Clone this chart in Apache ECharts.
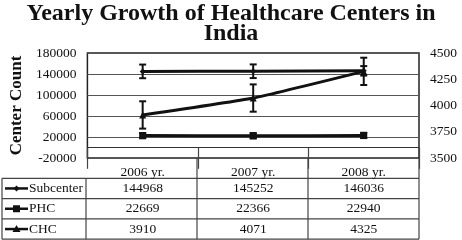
<!DOCTYPE html>
<html>
<head>
<meta charset="utf-8">
<script src="https://cdn.jsdelivr.net/npm/echarts@6/dist/echarts.min.js"></script>
<style>
  html, body { margin: 0; padding: 0; background: #fff; }
  #chart { width: 462px; height: 240px; }
</style>
</head>
<body>
<div id="chart"></div>
<script>
const years = ["2006 yr.", "2007 yr.", "2008 yr."];
const subcenter = [144968, 145252, 146036];
const phc = [22669, 22366, 22940];
const chc = [3910, 4071, 4325];
// error bar half-widths
const subcenterErr = [13000, 13000, 9000];
const phcErr = [5000, 5000, 5000];
const chcErr = [130, 130, 130];
const leftTicks = [-20000, 20000, 60000, 100000, 140000, 180000];

const font = "Liberation Serif";
const gridLeft = 86, gridRight = 43, gridTop = 53, gridHeight = 105;
const rowH = 20.3;

let chart = echarts.init(document.getElementById("chart"));

function errorBars(values, errs, yAxisIndex) {
  return {
    type: "custom",
    yAxisIndex: yAxisIndex,
    silent: true,
    z: 5,
    data: values.map((v, i) => [i, v - errs[i], v + errs[i]]),
    encode: { x: 0, y: [1, 2] },
    renderItem: function (params, api) {
      const lo = api.coord([api.value(0), api.value(1)]);
      const hi = api.coord([api.value(0), api.value(2)]);
      const w = 3.5;
      const style = { stroke: "#111", lineWidth: 2 };
      return {
        type: "group",
        children: [
          { type: "line", shape: { x1: lo[0], y1: lo[1], x2: hi[0], y2: hi[1] }, style },
          { type: "line", shape: { x1: lo[0] - w, y1: lo[1], x2: lo[0] + w, y2: lo[1] }, style },
          { type: "line", shape: { x1: hi[0] - w, y1: hi[1], x2: hi[0] + w, y2: hi[1] }, style },
        ],
      };
    },
  };
}

function lineSeries(name, values, symbol, size, yAxisIndex) {
  return {
    type: "line",
    name: name,
    yAxisIndex: yAxisIndex,
    data: values,
    symbol: symbol,
    symbolSize: size,
    smooth: 0.15,
    z: 6,
    itemStyle: { color: "#111" },
    lineStyle: { color: "#111", width: 3 },
  };
}

chart.setOption({
  animation: false,
  title: {
    text: "Yearly Growth of Healthcare Centers in\nIndia",
    left: "center",
    top: -1,
    textStyle: { fontFamily: font, fontSize: 24, fontWeight: "bold", color: "#111", lineHeight: 20 },
  },
  grid: {
    left: gridLeft,
    right: gridRight,
    top: gridTop,
    height: gridHeight,
    show: true,
    borderColor: "#222",
    borderWidth: 1.5,
  },
  xAxis: {
    type: "category",
    data: years,
    boundaryGap: true,
    axisLine: { show: false },
    axisTick: { show: true, length: rowH + 1, lineStyle: { color: "#444", width: 1.2 } },
    axisLabel: { fontFamily: font, fontSize: 13.5, color: "#111", margin: 7 },
  },
  yAxis: [
    {
      type: "value",
      min: -20000,
      max: 180000,
      interval: 20000,
      name: "Center Count",
      nameLocation: "middle",
      nameGap: 58,
      nameTextStyle: { fontFamily: font, fontSize: 17, fontWeight: "bold", color: "#111" },
      axisLine: { show: false },
      axisTick: { show: false },
      splitLine: { show: false },
      axisLabel: {
        fontFamily: font,
        fontSize: 13.5,
        color: "#111",
        margin: 11,
        formatter: (v) => (leftTicks.includes(v) ? String(v) : ""),
      },
    },
    {
      type: "value",
      position: "right",
      min: 3500,
      max: 4500,
      interval: 250,
      axisLine: { show: false },
      axisTick: { show: false },
      splitLine: { show: false },
      axisLabel: { fontFamily: font, fontSize: 13.5, color: "#111", margin: 11, formatter: (v) => String(v) },
    },
    {
      // only draws the gridlines at the left axis labels
      type: "value",
      min: 0,
      max: leftTicks.length - 1,
      interval: 1,
      axisLine: { show: false },
      axisTick: { show: false },
      axisLabel: { show: false },
      splitLine: { lineStyle: { color: "#555", width: 1 } },
    },
  ],
  series: [
    Object.assign(lineSeries("Subcenter", subcenter, "diamond", 6, 0), {
      markLine: {
        silent: true,
        symbol: "none",
        label: { show: false },
        lineStyle: { color: "#333", type: "solid", width: 1.2 },
        data: [{ yAxis: 0 }],
      },
    }),
    lineSeries("PHC", phc, "rect", 7, 0),
    lineSeries("CHC", chc, "triangle", 7, 1),
    errorBars(subcenter, subcenterErr, 0),
    errorBars(phc, phcErr, 0),
    errorBars(chc, chcErr, 1),
  ],
});

// data table under the plot
function buildTable() {
  const rows = [
    { name: "Subcenter", values: subcenter, mark: "diamond" },
    { name: "PHC", values: phc, mark: "rect" },
    { name: "CHC", values: chc, mark: "triangle" },
  ];
  const right = 462 - gridRight;
  const top = gridTop + gridHeight + rowH;
  const x0 = 2;
  const lineStyle = { stroke: "#444", lineWidth: 1.2 };
  const els = [];
  for (let r = 0; r <= rows.length; r++) {
    const y = top + r * rowH;
    els.push({ type: "line", shape: { x1: x0, y1: y, x2: right, y2: y }, style: lineStyle });
  }
  const bottom = top + rows.length * rowH;
  [x0, gridLeft].forEach((x) =>
    els.push({ type: "line", shape: { x1: x, y1: top, x2: x, y2: bottom }, style: lineStyle })
  );
  const colW = (right - gridLeft) / years.length;
  for (let c = 1; c <= years.length; c++) {
    const x = gridLeft + c * colW;
    els.push({ type: "line", shape: { x1: x, y1: gridTop + gridHeight, x2: x, y2: bottom }, style: lineStyle });
  }
  rows.forEach((row, r) => {
    const cy = top + r * rowH + rowH / 2;
    els.push({ type: "line", shape: { x1: 5, y1: cy, x2: 28, y2: cy }, style: { stroke: "#111", lineWidth: 2.5 } });
    let mk;
    if (row.mark === "diamond") {
      mk = { type: "polygon", shape: { points: [[16.5, cy - 3], [19.5, cy], [16.5, cy + 3], [13.5, cy]] } };
    } else if (row.mark === "rect") {
      mk = { type: "rect", shape: { x: 13, y: cy - 3.5, width: 7, height: 7 } };
    } else {
      mk = { type: "polygon", shape: { points: [[16.5, cy - 4], [20.5, cy + 3], [12.5, cy + 3]] } };
    }
    mk.style = { fill: "#111" };
    els.push(mk);
    els.push({
      type: "text",
      x: 29,
      y: cy,
      style: { text: row.name, font: "13.5px " + font, fill: "#111", verticalAlign: "middle" },
    });
    row.values.forEach((v, c) => {
      const cx = chart.convertToPixel({ xAxisIndex: 0 }, years[c]);
      els.push({
        type: "text",
        x: cx,
        y: cy,
        style: { text: String(v), font: "13.5px " + font, fill: "#111", align: "center", verticalAlign: "middle" },
      });
    });
  });
  chart.setOption({ graphic: els });
}
buildTable();
</script>
</body>
</html>
